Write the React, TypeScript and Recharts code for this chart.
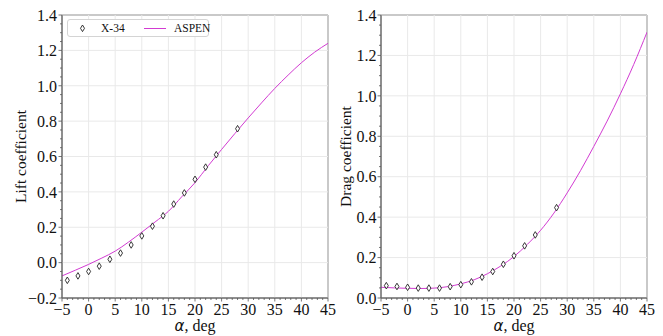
import React from 'react';
import { ComposedChart, Line, Scatter, XAxis, YAxis, ReferenceLine, ReferenceArea, Legend, Label } from 'recharts';

// ---------- data ----------
const alphaExp = [-4, -2, 0, 2, 4, 6, 8, 10, 12, 14, 16, 18, 20, 22, 24, 28];
const liftExp = [-0.1, -0.075, -0.05, -0.02, 0.019, 0.054, 0.1, 0.151, 0.206, 0.265, 0.331, 0.394, 0.471, 0.54, 0.61, 0.757];
const dragExp = [0.061, 0.057, 0.053, 0.049, 0.049, 0.049, 0.056, 0.066, 0.08, 0.103, 0.131, 0.167, 0.209, 0.258, 0.312, 0.447];

const alphaAspen = [-5, -2.5, 0, 2.5, 5, 7.5, 10, 12.5, 15, 17.5, 20, 22.5, 25, 27.5, 30, 32.5, 35, 37.5, 40, 42.5, 45];
const liftAspen = [-0.075, -0.043, -0.01, 0.026, 0.065, 0.116, 0.172, 0.23, 0.29, 0.372, 0.452, 0.548, 0.64, 0.73, 0.818, 0.903, 0.985, 1.06, 1.13, 1.19, 1.24];
const dragAspen = [0.053, 0.05, 0.048, 0.047, 0.049, 0.056, 0.07, 0.09, 0.12, 0.158, 0.205, 0.265, 0.335, 0.42, 0.52, 0.63, 0.75, 0.875, 1.01, 1.155, 1.315];

const xMajorTicks = [-5, 0, 5, 10, 15, 20, 25, 30, 35, 40, 45];
const liftMajorTicks = [-0.2, 0, 0.2, 0.4, 0.6, 0.8, 1.0, 1.2, 1.4];
const dragMajorTicks = [0, 0.2, 0.4, 0.6, 0.8, 1.0, 1.2, 1.4];

const expName = 'X-34';
const aspenName = 'ASPEN';
const xLabelVar = 'α';
const xLabelUnit = ', deg';
const liftLabel = 'Lift coefficient';
const dragLabel = 'Drag coefficient';

// ---------- helpers ----------
const SERIF = "'Liberation Serif', 'Times New Roman', serif";
const LINE_COLOR = '#d23bd2';
const AXIS_COLOR = '#555555';
const GRID_COLOR = '#e9e9e9';

const pairs = (xs: number[], ys: number[]) => xs.map((x, i) => ({ x, y: ys[i] }));
const fmt = (v: number, d: number) => {
  const s = v.toFixed(d);
  return s.startsWith('-') ? '\u2212' + s.slice(1) : s;
};
const minorRange = (lo: number, hi: number, step: number) => {
  const n = Math.round((hi - lo) / step);
  return Array.from({ length: n + 1 }, (_, i) => Math.round((lo + i * step) * 1000) / 1000);
};
const isOn = (v: number, step: number) => Math.abs(v / step - Math.round(v / step)) < 1e-6;

const XTick = (props: any) => {
  const { x, y, payload } = props;
  const v = payload.value;
  const major = isOn(v, 5);
  return (
    <g>
      <line x1={x} y1={y} x2={x} y2={y + (major ? 3.5 : 2)} stroke={AXIS_COLOR} strokeWidth={0.8} />
      {major && (
        <text x={x} y={y + 17} textAnchor="middle" fontFamily={SERIF} fontSize={16} fill="#111">
          {fmt(v, 0)}
        </text>
      )}
    </g>
  );
};

const makeYTick = (gap: number) => (props: any) => {
  const { x, y, payload } = props;
  const v = payload.value;
  const major = isOn(v, 0.2);
  return (
    <g>
      <line x1={x - (major ? 3.5 : 2)} y1={y} x2={x} y2={y} stroke={AXIS_COLOR} strokeWidth={0.8} />
      {major && (
        <text x={x - gap} y={y} dy="0.36em" textAnchor="end" fontFamily={SERIF} fontSize={16} fill="#111">
          {fmt(v, 1)}
        </text>
      )}
    </g>
  );
};

const Diamond = (props: any) => {
  const { cx, cy } = props;
  if (cx == null || cy == null) return null;
  return (
    <path
      d={`M${cx},${cy - 3.3} L${cx + 2},${cy} L${cx},${cy + 3.3} L${cx - 2},${cy} Z`}
      fill="#ffffff"
      stroke="#222"
      strokeWidth={0.9}
    />
  );
};

const LegendBox = () => (
  <div
    style={{
      width: 142,
      height: 18,
      border: '1px solid #d4d4d4',
      borderRadius: 3,
      background: '#fff',
      position: 'relative',
      fontFamily: SERIF,
      fontSize: 11.5,
      color: '#111',
      boxSizing: 'border-box',
    }}
  >
    <svg width={142} height={18} style={{ position: 'absolute', left: 0, top: 0 }}>
      <path d="M14.5,5 L16.5,8.3 L14.5,11.6 L12.5,8.3 Z" fill="#fff" stroke="#222" strokeWidth={0.9} />
      <line x1={76} y1={8.5} x2={98} y2={8.5} stroke={LINE_COLOR} strokeWidth={1} />
    </svg>
    <span style={{ position: 'absolute', left: 33, top: 1, lineHeight: '15px' }}>{expName}</span>
    <span style={{ position: 'absolute', left: 106, top: 1, lineHeight: '15px' }}>{aspenName}</span>
  </div>
);

type PanelProps = {
  width: number;
  yAxisWidth: number;
  marginRight: number;
  yDomain: [number, number];
  yMajor: number[];
  exp: number[];
  aspen: number[];
  yLabel: string;
  yLabelBaseline: number;
  tickGap: number;
  legend?: boolean;
};

const Panel = (p: PanelProps) => {
  const yMinor = minorRange(p.yDomain[0], p.yDomain[1], 0.05);
  const xMinor = minorRange(-5, 45, 1);
  const YTick = makeYTick(p.tickGap);
  return (
    <ComposedChart
      width={p.width}
      height={336}
      margin={{ top: 15, right: p.marginRight, left: 0, bottom: 0 }}
    >
      {xMajorTicks.map((v) => (
        <ReferenceLine key={'gx' + v} x={v} stroke={GRID_COLOR} strokeWidth={1} />
      ))}
      {p.yMajor.map((v) => (
        <ReferenceLine key={'gy' + v} y={v} stroke={GRID_COLOR} strokeWidth={1} />
      ))}
      <XAxis
        dataKey="x"
        type="number"
        domain={[-5, 45]}
        ticks={xMinor}
        interval={0}
        allowDataOverflow
        height={38}
        tickSize={0}
        tickMargin={0}
        tickLine={false}
        tick={<XTick />}
        axisLine={{ stroke: AXIS_COLOR }}
      >
        <Label
          content={(lp: any) => {
            const vb = lp.viewBox;
            return (
              <text x={vb.x + vb.width / 2} y={vb.y + 33} textAnchor="middle" fontSize={16} fill="#111" fontFamily={SERIF}>
                <tspan fontFamily="'DejaVu Sans', sans-serif" fontStyle="italic" fontSize={15}>
                  {xLabelVar}
                </tspan>
                <tspan>{xLabelUnit}</tspan>
              </text>
            );
          }}
        />
      </XAxis>
      <YAxis
        dataKey="y"
        type="number"
        domain={p.yDomain}
        ticks={yMinor}
        interval={0}
        allowDataOverflow
        width={p.yAxisWidth}
        tickSize={0}
        tickMargin={0}
        tickLine={false}
        tick={<YTick />}
        axisLine={{ stroke: AXIS_COLOR }}
      >
        <Label
          content={(lp: any) => {
            const vb = lp.viewBox;
            const cx = vb.x + p.yLabelBaseline;
            const cy = vb.y + vb.height / 2;
            return (
              <text
                x={cx}
                y={cy}
                transform={`rotate(-90, ${cx}, ${cy})`}
                textAnchor="middle"
                fontSize={15.5}
                fill="#111"
                fontFamily={SERIF}
              >
                {p.yLabel}
              </text>
            );
          }}
        />
      </YAxis>
      <ReferenceArea
        x1={-5}
        x2={45}
        y1={p.yDomain[0]}
        y2={p.yDomain[1]}
        fill="none"
        fillOpacity={0}
        stroke={AXIS_COLOR}
        strokeWidth={1}
      />
      <Line
        data={pairs(alphaAspen, p.aspen)}
        dataKey="y"
        name={aspenName}
        type="monotone"
        stroke={LINE_COLOR}
        strokeWidth={1}
        dot={false}
        activeDot={false}
        isAnimationActive={false}
      />
      <Scatter
        data={pairs(alphaExp, p.exp)}
        dataKey="y"
        name={expName}
        shape={<Diamond />}
        isAnimationActive={false}
      />
      {p.legend && (
        <Legend
          layout="vertical"
          align="center"
          verticalAlign="middle"
          content={() => <LegendBox />}
          wrapperStyle={{ left: 67, top: 19, width: 142, height: 18 }}
        />
      )}
    </ComposedChart>
  );
};

export default function App() {
  return (
    <div style={{ position: 'absolute', left: 0, top: 0, width: 663, height: 336, background: '#fff' }}>
      <div style={{ position: 'absolute', left: 330, top: 0 }}>
        <Panel
          width={333}
          yAxisWidth={51}
          marginRight={16}
          yDomain={[0, 1.4]}
          yMajor={dragMajorTicks}
          exp={dragExp}
          aspen={dragAspen}
          yLabel={dragLabel}
          yLabelBaseline={21}
          tickGap={4.5}
        />
      </div>
      <div style={{ position: 'absolute', left: 0, top: 0 }}>
        <Panel
          width={344}
          yAxisWidth={62}
          marginRight={16}
          yDomain={[-0.2, 1.4]}
          yMajor={liftMajorTicks}
          exp={liftExp}
          aspen={liftAspen}
          yLabel={liftLabel}
          yLabelBaseline={25.5}
          tickGap={5}
          legend
        />
      </div>
    </div>
  );
}
